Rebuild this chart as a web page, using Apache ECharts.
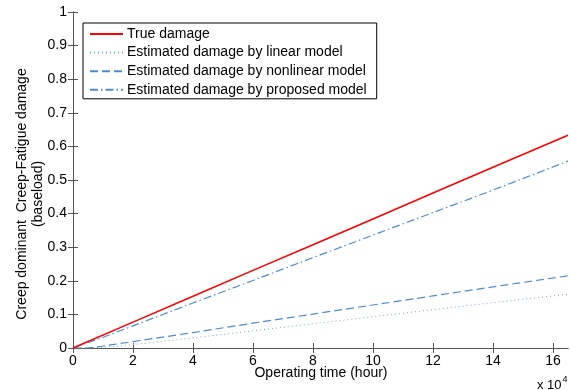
<!DOCTYPE html>
<html>
<head>
<meta charset="utf-8">
<script src="https://cdn.jsdelivr.net/npm/echarts@6/dist/echarts.min.js"></script>
<style>
  html, body { margin: 0; padding: 0; background: #fff; }
  #chart { width: 570px; height: 390px; }
</style>
</head>
<body>
<div id="chart"></div>
<script>
// Operating time in units of 10^4 hours
const hoursTrue = [0, 2, 4, 6, 8, 10, 12, 14, 16.5];
const trueDamage = [0, 0.077, 0.154, 0.231, 0.307, 0.384, 0.461, 0.538, 0.633];

const hoursLinear = [0, 0.6, 1, 2, 4, 6, 8, 10, 12, 14, 16.5];
const linearDamage = [0, 0, 0.002, 0.010, 0.030, 0.051, 0.072, 0.093, 0.114, 0.135, 0.160];

const hoursNonlinear = [0, 0.5, 1, 2, 4, 6, 8, 10, 12, 14, 16.5];
const nonlinearDamage = [0, 0, 0.006, 0.019, 0.046, 0.074, 0.101, 0.128, 0.155, 0.182, 0.215];

const hoursProposed = [0, 1, 2, 4, 6, 8, 10, 12, 14, 16.5];
const proposedDamage = [0, 0.032, 0.066, 0.134, 0.201, 0.269, 0.336, 0.403, 0.470, 0.556];

const xTicks = [0, 2, 4, 6, 8, 10, 12, 14, 16];
const yTicks = [0, 0.1, 0.2, 0.3, 0.4, 0.5, 0.6, 0.7, 0.8, 0.9, 1];

const seriesNames = [
  'True damage',
  'Estimated damage by linear model',
  'Estimated damage by nonlinear model',
  'Estimated damage by proposed model'
];

const pairs = (xs, ys) => xs.map((x, i) => [x, ys[i]]);

const FONT = 'Liberation Sans, Arial, sans-serif';
const FS = 14;
const AXIS_COLOR = '#555';
const BLUE = '#4d8ad0';

const frameAxis = {
  axisLine: { show: true, lineStyle: { color: AXIS_COLOR, width: 1 } },
  splitLine: { show: false }
};

const chart = echarts.init(document.getElementById('chart'), null, { renderer: 'canvas' });

chart.setOption({
  animation: false,
  backgroundColor: '#fff',
  grid: { left: 73, right: 2, top: 12, bottom: 42 },
  xAxis: [
    Object.assign({
      type: 'value', min: 0, max: 16.5, position: 'bottom',
      axisTick: { show: true, inside: true, length: 5, customValues: xTicks, lineStyle: { color: AXIS_COLOR } },
      axisLabel: { customValues: xTicks, color: '#000', fontFamily: FONT, fontSize: FS, margin: 6 }
    }, frameAxis),
    Object.assign({
      type: 'value', min: 0, max: 16.5, position: 'top',
      axisTick: { show: true, inside: true, length: 5, customValues: xTicks, lineStyle: { color: AXIS_COLOR } },
      axisLabel: { show: false }
    }, frameAxis)
  ],
  yAxis: [
    Object.assign({
      type: 'value', min: 0, max: 1, interval: 0.1, position: 'left',
      axisTick: { show: true, inside: true, length: 5, lineStyle: { color: AXIS_COLOR } },
      axisLabel: {
        color: '#000', fontFamily: FONT, fontSize: FS, margin: 6,
        formatter: v => String(Math.round(v * 10) / 10)
      }
    }, frameAxis),
    Object.assign({
      type: 'value', min: 0, max: 1, interval: 0.1, position: 'right',
      axisTick: { show: true, inside: true, length: 5, lineStyle: { color: AXIS_COLOR } },
      axisLabel: { show: false }
    }, frameAxis)
  ],
  legend: {
    orient: 'vertical',
    left: 83, top: 23,
    itemWidth: 33, itemHeight: 14, itemGap: 4.6,
    itemStyle: { opacity: 0 },
    padding: [4, 10, 2, 6],
    borderColor: '#000', borderWidth: 1,
    backgroundColor: '#fff',
    textStyle: { color: '#000', fontFamily: FONT, fontSize: FS, padding: [0, 0, 0, -1] },
    data: seriesNames
  },
  series: [
    {
      name: seriesNames[0], type: 'line', symbol: 'none', z: 5,
      data: pairs(hoursTrue, trueDamage),
      lineStyle: { color: '#ff0000', width: 1.6, type: 'solid' },
      itemStyle: { color: '#ff0000' }
    },
    {
      name: seriesNames[1], type: 'line', symbol: 'none',
      data: pairs(hoursLinear, linearDamage),
      lineStyle: { color: '#6fa4dc', width: 1, type: [1, 3] },
      itemStyle: { color: '#6fa4dc' }
    },
    {
      name: seriesNames[2], type: 'line', symbol: 'none',
      data: pairs(hoursNonlinear, nonlinearDamage),
      lineStyle: { color: BLUE, width: 1.2, type: [8, 4] },
      itemStyle: { color: BLUE }
    },
    {
      name: seriesNames[3], type: 'line', symbol: 'none',
      data: pairs(hoursProposed, proposedDamage),
      lineStyle: { color: BLUE, width: 1.2, type: [8, 3, 1.5, 3] },
      itemStyle: { color: BLUE }
    }
  ],
  graphic: [
    {
      type: 'text', x: 321, y: 373,
      style: {
        text: 'Operating time (hour)', fill: '#000', font: FS + 'px ' + FONT,
        align: 'center', verticalAlign: 'middle'
      }
    },
    {
      type: 'text', x: 30, y: 194, rotation: Math.PI / 2,
      style: {
        text: 'Creep dominant  Creep-Fatigue damage\n(baseload)',
        fill: '#000', font: FS + 'px ' + FONT,
        align: 'center', verticalAlign: 'middle', lineHeight: 16
      }
    },
    {
      type: 'text', x: 537, y: 375,
      style: {
        text: '{b|x 10}{s|4}',
        rich: {
          b: { fill: '#000', font: '13px ' + FONT, verticalAlign: 'bottom' },
          s: { fill: '#000', font: '9px ' + FONT, verticalAlign: 'top', padding: [0, 0, 8, 1] }
        }
      }
    }
  ]
});
</script>
</body>
</html>
